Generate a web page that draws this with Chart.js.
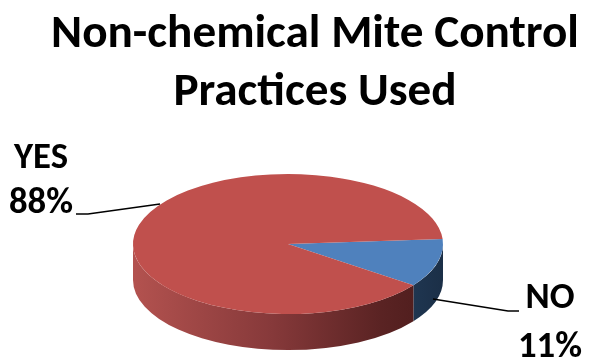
<!DOCTYPE html>
<html>
<head>
<meta charset="utf-8">
<script src="https://cdn.jsdelivr.net/npm/chart.js@4/dist/chart.umd.min.js"></script>
<style>
  html, body { margin: 0; padding: 0; background: #ffffff; }
  #wrap { width: 589px; height: 360px; position: relative; }
</style>
</head>
<body>
<div id="wrap"><canvas id="chart" width="589" height="360"></canvas></div>
<script>
// Survey answers and their shares (percent)
const categories = ['NO', 'YES'];
const shares = [11, 88];
const sliceColors = ['#4f81bd', '#c0504d'];
const titleLines = ['Non-chemical Mite Control', 'Practices Used'];

const FONT_FAMILY = 'Carlito, Lato, "Open Sans", sans-serif';

// Pick a text size so a line spans the intended width
function fitSize(text, targetWidth, bold) {
  const c = document.createElement('canvas').getContext('2d');
  c.font = (bold ? 'bold ' : '') + '100px ' + FONT_FAMILY;
  return 100 * targetWidth / c.measureText(text).width;
}
const titleSize = fitSize(titleLines[0], 528, true);
const labelSize = fitSize('88%', 64, true);

// Projection of the pie into a tilted disc
const TILT = 0.452;      // vertical squash of the top face
const FACE_CY = 244;     // centre of the top face on screen
const DEPTH = 36;        // thickness of the disc

const sideShades = [
  [[0, '#4a6f9c'], [0.9, '#1f3651'], [1, '#1b2f47']],
  [[0, '#b3524f'], [0.45, '#86393a'], [0.8, '#5a2323'], [1, '#4b1b1b']]
];

const pie3d = {
  id: 'pie3d',
  beforeDatasetsDraw(chart) {
    const ctx = chart.ctx;
    const meta = chart.getDatasetMeta(0);
    const first = meta.data[0];
    const cx = first.x, cy = first.y;
    const r = first.outerRadius, ry = r * TILT;

    // side walls: only the front half (0..PI) of every slice is visible
    meta.data.forEach((arc, i) => {
      const s = arc.startAngle, e = arc.endAngle;
      for (let k = -1; k <= 1; k++) {
        const lo = Math.max(s, 2 * Math.PI * k);
        const hi = Math.min(e, 2 * Math.PI * k + Math.PI);
        if (lo >= hi) continue;
        const g = ctx.createLinearGradient(cx - r, 0, cx + r, 0);
        sideShades[i].forEach(([p, c]) => g.addColorStop(p, c));
        ctx.save();
        ctx.beginPath();
        ctx.ellipse(cx, FACE_CY, r, ry, 0, lo, hi, false);
        ctx.ellipse(cx, FACE_CY + DEPTH, r, ry, 0, hi, lo, true);
        ctx.closePath();
        ctx.fillStyle = g;
        ctx.fill();
        ctx.restore();
      }
    });

    // top face: squash the library's own arcs
    ctx.save();
    ctx.translate(cx, FACE_CY);
    ctx.scale(1, TILT);
    ctx.translate(-cx, -cy);
  },
  afterDatasetsDraw(chart) {
    chart.ctx.restore();
  },
  afterDraw(chart) {
    const ctx = chart.ctx;
    ctx.save();
    ctx.fillStyle = '#000000';
    ctx.textAlign = 'center';
    ctx.textBaseline = 'alphabetic';

    // title
    ctx.font = 'bold ' + titleSize + 'px ' + FONT_FAMILY;
    ctx.fillText(titleLines[0], 315, 47);
    ctx.fillText(titleLines[1], 315, 105);

    // slice labels with leader lines
    ctx.font = 'bold ' + labelSize + 'px ' + FONT_FAMILY;
    const labelSpots = [
      { x: 550, y1: 308, y2: 357, line: [[433, 299], [508, 311], [519, 311]] },
      { x: 41, y1: 168, y2: 213, line: [[160, 204], [88, 214], [76, 214]] }
    ];
    categories.forEach((name, i) => {
      const spot = labelSpots[i];
      ctx.fillText(name, spot.x, spot.y1);
      ctx.fillText(shares[i] + '%', spot.x, spot.y2);
      ctx.beginPath();
      spot.line.forEach(([x, y], j) => j ? ctx.lineTo(x, y) : ctx.moveTo(x, y));
      ctx.strokeStyle = '#000000';
      ctx.lineWidth = 1.6;
      ctx.stroke();
    });
    ctx.restore();
  }
};

new Chart(document.getElementById('chart'), {
  type: 'pie',
  data: {
    labels: categories,
    datasets: [{
      data: shares,
      backgroundColor: sliceColors,
      borderWidth: 0
    }]
  },
  options: {
    responsive: false,
    animation: false,
    rotation: 86,
    events: [],
    layout: { padding: { left: 133, right: 146, top: 25, bottom: 25 } },
    plugins: {
      legend: { display: false },
      title: { display: false },
      tooltip: { enabled: false }
    }
  },
  plugins: [pie3d]
});
</script>
</body>
</html>
